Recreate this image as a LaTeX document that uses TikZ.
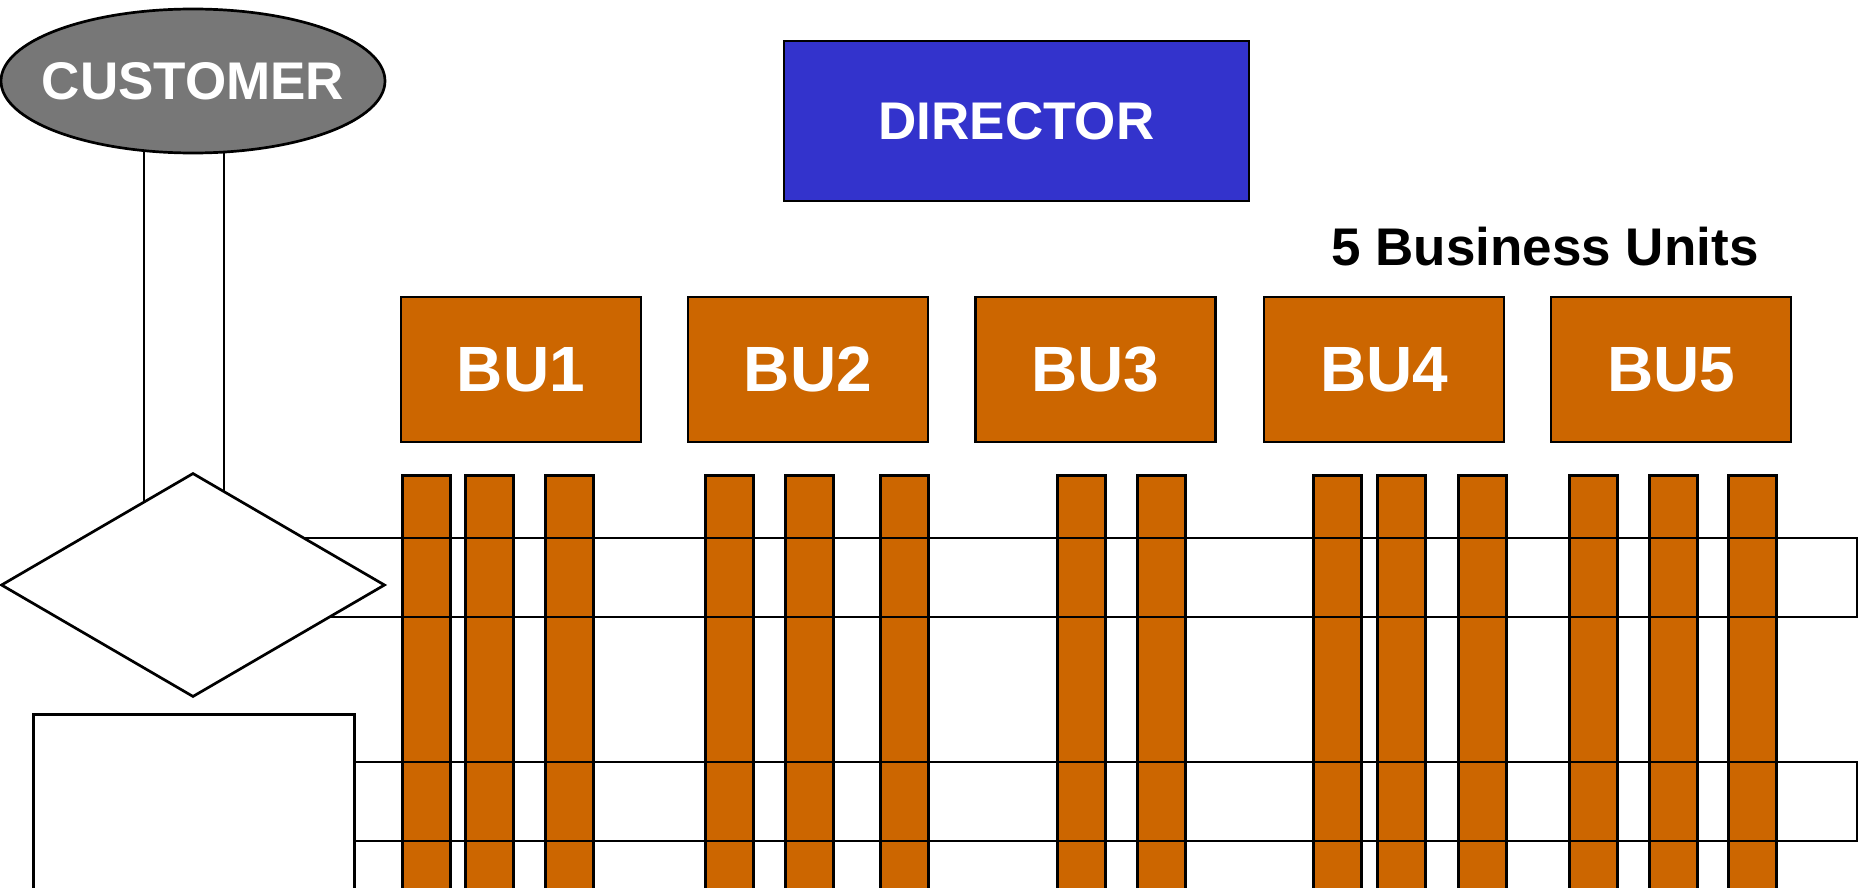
\documentclass[tikz,border=0pt]{standalone}
\usepackage{fontspec}
\setmainfont{Liberation Sans}
\usetikzlibrary{shapes.geometric}
\definecolor{buorange}{RGB}{204,102,0}
\definecolor{dirblue}{RGB}{51,51,204}
\definecolor{custgray}{RGB}{119,119,119}
\pgfdeclarelayer{paper}
\pgfdeclarelayer{back}
\pgfdeclarelayer{mid}
\pgfsetlayers{paper,back,mid,main}
\tikzset{
  outline/.style={draw=black, line width=2.7pt},
  bubox/.style={outline, fill=buorange, minimum width=240pt, minimum height=145pt, inner sep=0pt,
    text=white, font=\bfseries\fontsize{64}{70}\selectfont},
  barbox/.style={outline, fill=buorange, anchor=north west, minimum width=48pt, minimum height=440pt, inner sep=0pt},
  whitetext/.style={text=white, font=\bfseries\fontsize{53}{60}\selectfont},
  band/.style={draw=black, line width=2.7pt}
}
\begin{document}
\begin{tikzpicture}[x=1pt,y=-1pt]
\clip (0,0) rectangle (1863,888);
\begin{pgfonlayer}{paper}
  \fill[white] (0,0) rectangle (1863,888);
\end{pgfonlayer}

% main shapes
\node[ellipse, outline, fill=custgray, minimum width=384pt, minimum height=144pt, inner sep=0pt,
  label={[whitetext]center:CUSTOMER}] (customer) at (193,81) {};
\node[diamond, outline, fill=white, minimum width=384pt, minimum height=224pt, inner sep=0pt] (decision) at (193,585) {};
\node[outline, fill=white, anchor=north west, minimum width=321pt, minimum height=300pt, inner sep=0pt] (box) at (32,713) {};
\node[outline, fill=dirblue, minimum width=465pt, minimum height=160pt, inner sep=0pt, whitetext] (director) at (1016.5,121) {DIRECTOR};
\node[font=\bfseries\fontsize{53}{60}\selectfont, inner sep=0pt] (title) at (1545,247) {5 Business Units};

\node[bubox] (bu1) at (521,369.5) {BU1};
\node[bubox] (bu2) at (808,369.5) {BU2};
\node[bubox] (bu3) at (1095.5,369.5) {BU3};
\node[bubox] (bu4) at (1384,369.5) {BU4};
\node[bubox] (bu5) at (1671,369.5) {BU5};

% links from customer down to the decision
\begin{pgfonlayer}{back}
  \draw[outline] ([xshift=-49pt]customer.center) -- ([xshift=-49pt]decision.center);
  \draw[outline] ([xshift=31pt]customer.center) -- ([xshift=31pt]decision.center);
\end{pgfonlayer}

% bars and bands
\begin{pgfonlayer}{mid}
  \foreach \x [count=\i] in {401,464,544,704,784,879,1056,1136,1312,1376,1457,1568,1648,1727}
    \node[barbox] (bar\i) at (\x,474) {};
  \draw[band] (decision.center |- 0,538) rectangle (1857,617);
  \draw[band] (box.center |- 0,762) rectangle (1857,841);
\end{pgfonlayer}
\end{tikzpicture}
\end{document}
